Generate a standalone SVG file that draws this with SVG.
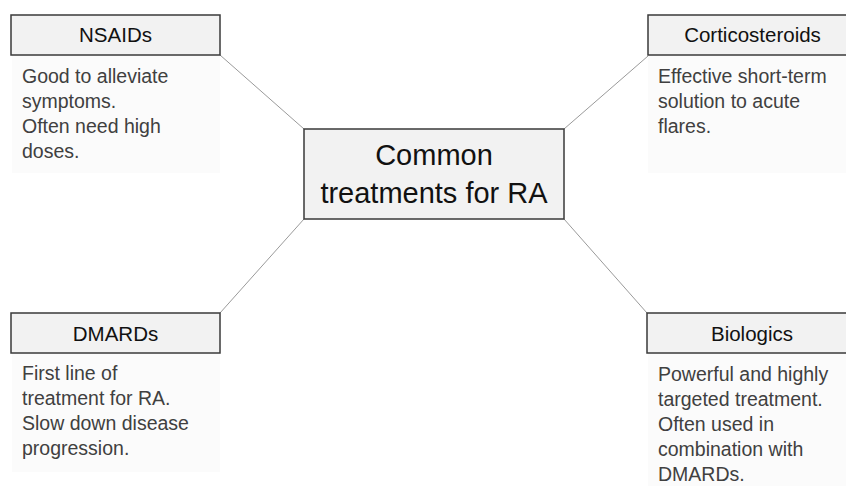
<svg xmlns="http://www.w3.org/2000/svg" width="846" height="486" viewBox="0 0 846 486">
<style>
.hdr{fill:#f2f2f2;stroke:#3a3a3a;stroke-width:1.5}
.body{fill:#fbfbfb;stroke:none}
.ht{font-family:"Liberation Sans",Arial,sans-serif;font-size:20.5px;fill:#111;text-anchor:middle}
.bt{font-family:"Liberation Sans",Arial,sans-serif;font-size:19.5px;fill:#404040}
.ct{font-family:"Liberation Sans",Arial,sans-serif;font-size:29px;fill:#111;text-anchor:middle}
.conn{stroke:#9a9a9a;stroke-width:1;fill:none}
</style>
<rect width="846" height="486" fill="#ffffff"/>
<g id="connectors">
<line class="conn" x1="220" y1="55" x2="304" y2="129"/>
<line class="conn" x1="648" y1="56" x2="564" y2="129"/>
<line class="conn" x1="220" y1="313" x2="304" y2="219"/>
<line class="conn" x1="647" y1="313" x2="564" y2="219"/>
</g>
<g id="center">
<rect class="hdr" x="304" y="129" width="260" height="90"/>
<text class="ct" x="434" y="165">Common</text>
<text class="ct" x="434" y="203">treatments for RA</text>
</g>
<g id="nsaids">
<rect class="body" x="12" y="55" width="208" height="118"/>
<rect class="hdr" x="11" y="15" width="209" height="40"/>
<text class="ht" x="115.5" y="42">NSAIDs</text>
<text class="bt" x="22" y="83">Good to alleviate</text>
<text class="bt" x="22" y="108">symptoms.</text>
<text class="bt" x="22" y="133">Often need high</text>
<text class="bt" x="22" y="158">doses.</text>
</g>
<g id="corticosteroids">
<rect class="body" x="648" y="56" width="200" height="117"/>
<rect class="hdr" x="648" y="15" width="209" height="40"/>
<text class="ht" x="752.5" y="42">Corticosteroids</text>
<text class="bt" x="658" y="83">Effective short-term</text>
<text class="bt" x="658" y="108">solution to acute</text>
<text class="bt" x="658" y="133">flares.</text>
</g>
<g id="dmards">
<rect class="body" x="12" y="353" width="208" height="119"/>
<rect class="hdr" x="11" y="313" width="209" height="40"/>
<text class="ht" x="115.5" y="341">DMARDs</text>
<text class="bt" x="22" y="380">First line of</text>
<text class="bt" x="22" y="405">treatment for RA.</text>
<text class="bt" x="22" y="430">Slow down disease</text>
<text class="bt" x="22" y="455">progression.</text>
</g>
<g id="biologics">
<rect class="body" x="648" y="353" width="200" height="135"/>
<rect class="hdr" x="647" y="313" width="210" height="40"/>
<text class="ht" x="752" y="341">Biologics</text>
<text class="bt" x="658" y="381">Powerful and highly</text>
<text class="bt" x="658" y="406">targeted treatment.</text>
<text class="bt" x="658" y="431">Often used in</text>
<text class="bt" x="658" y="456">combination with</text>
<text class="bt" x="658" y="481">DMARDs.</text>
</g>
</svg>
